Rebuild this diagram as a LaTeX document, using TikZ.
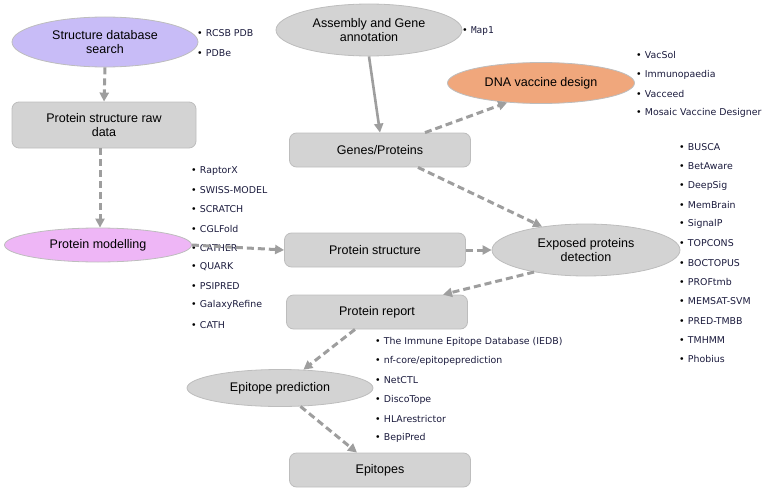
\documentclass[tikz,border=0pt]{standalone}
\usepackage{fontspec}
\setmainfont{Liberation Sans}
\newfontfamily\listfont{DejaVu Sans}
\newfontfamily\monolistfont{DejaVu Sans Mono}
\usetikzlibrary{shapes.geometric,arrows.meta}
\definecolor{boxfill}{HTML}{D3D3D3}
\definecolor{boxline}{HTML}{BDBDBD}
\definecolor{lavender}{HTML}{C8BCF7}
\definecolor{pinkv}{HTML}{EEB6F6}
\definecolor{orangev}{HTML}{F0A77C}
\definecolor{conn}{HTML}{9E9E9E}
\definecolor{listtext}{HTML}{1A1A3C}
\tikzset{
  boxnode/.style={draw=boxline, fill=boxfill, rounded corners=7pt, line width=0.8pt,
    minimum width=181pt, minimum height=34pt, inner sep=0pt, align=center,
    font=\fontsize{12.5}{14.5}\selectfont},
  ellnode/.style={ellipse, draw=boxline, fill=boxfill, line width=0.8pt, inner sep=0pt,
    align=center, font=\fontsize{12.5}{14.5}\selectfont},
  item/.style={anchor=west, inner sep=0pt, text=listtext,
    font=\listfont\fontsize{9.4}{11}\selectfont},
  monoitem/.style={anchor=west, inner sep=0pt, text=listtext,
    font=\monolistfont\fontsize{9.4}{11}\selectfont},
  dasharrow/.style={draw=conn, line width=3pt, dash pattern=on 7pt off 4pt,
    -{Triangle[length=9pt,width=9pt]}},
  solidarrow/.style={draw=conn, line width=2.6pt, -{Triangle[length=9pt,width=9pt]}},
}
\newcommand{\bul}[1]{\textcolor{black}{\textbullet}\hspace{3.2pt}#1}
\begin{document}
\begin{tikzpicture}[x=1pt,y=-1pt]
\useasboundingbox (0,0) rectangle (765,495);
% main nodes
\node[ellnode, fill=lavender, minimum width=186pt, minimum height=50pt] (sds) at (105,42) {Structure database\\search};
\node[boxnode, minimum width=184pt, minimum height=46pt] (raw) at (104,125) {Protein structure raw\\data};
\node[ellnode, fill=pinkv, minimum width=187pt, minimum height=34pt] (pm) at (98,245) {Protein modelling};
\node[boxnode] (ps) at (375,250) {Protein structure};
\node[ellnode, minimum width=186pt, minimum height=52pt] (asm) at (369,30) {Assembly and Gene\\annotation};
\node[boxnode] (gp) at (380,150) {Genes/Proteins};
\node[ellnode, fill=orangev, minimum width=187pt, minimum height=41pt] (dna) at (541,83) {DNA vaccine design};
\node[ellnode, minimum width=188pt, minimum height=52pt] (exp) at (586,250) {Exposed proteins\\detection};
\node[boxnode] (pr) at (377,312) {Protein report};
\node[ellnode, minimum width=186pt, minimum height=37pt] (ep) at (280,388) {Epitope prediction};
\node[boxnode] (epi) at (380,470) {Epitopes};
% lists
\node[monoitem] (m1) at (462,31) {\bul{Map1}};
\node[item] (s1) at (197,33) {\bul{RCSB PDB}};
\node[item] (s2) at (197,53) {\bul{PDBe}};
\node[item] (v1) at (636,55) {\bul{VacSol}};
\node[item] (v2) at (636,75) {\bul{Immunopaedia}};
\node[item] (v3) at (636,94) {\bul{Vacceed}};
\node[item] (v4) at (636,113) {\bul{Mosaic Vaccine Designer}};
\foreach \t [count=\i] in {RaptorX,SWISS-MODEL,SCRATCH,CGLFold,CATHER,QUARK,PSIPRED,GalaxyRefine,CATH}{
  \node[item] (p\i) at (191,{171+19.2*(\i-1)}) {\bul{\t}};
}
\foreach \t [count=\i] in {BUSCA,BetAware,DeepSig,MemBrain,SignalP,TOPCONS,BOCTOPUS,PROFtmb,MEMSAT-SVM,PRED-TMBB,TMHMM,Phobius}{
  \node[item] (b\i) at (679,{147+19.3*(\i-1)}) {\bul{\t}};
}
\foreach \t [count=\i] in {The Immune Epitope Database (IEDB),nf-core/epitopeprediction,NetCTL,DiscoTope,HLArestrictor,BepiPred}{
  \node[item] (e\i) at (375,{342+19.2*(\i-1)}) {\bul{\t}};
}
% connector end points
\path (gp.north) ++(45,0) coordinate (gpa);
\path (gp.south) ++(38,0) coordinate (gpb);
\path (pr.north) ++(66,0) coordinate (prt);
\path (pr.south) ++(-22,0) coordinate (prb);
\path (epi.north) ++(-23,0) coordinate (epit);
% connectors
\draw[dasharrow] (sds.south) -- (raw.north);
\draw[dasharrow] (raw.south -| 100,0) -- (pm.north -| 100,0);
\draw[dasharrow] (pm.east) -- (ps.west);
\draw[solidarrow] (asm.south) -- (gp.north);
\draw[dasharrow] (gpa) -- (dna.-150);
\draw[dasharrow] (gpb) -- (exp.152);
\draw[dasharrow] (ps.east) -- (exp.west);
\draw[dasharrow] (exp.-157) -- (prt);
\draw[dasharrow] (prb) -- (ep.38);
\draw[dasharrow] (ep.-42) -- (epit);
\end{tikzpicture}
\end{document}
